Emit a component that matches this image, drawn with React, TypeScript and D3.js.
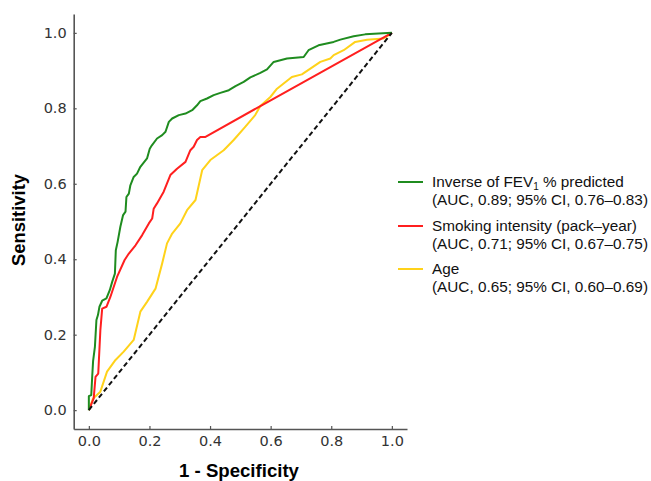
import React, { useRef, useEffect } from "react";
import * as d3 from "d3";

// ROC points: [1 - specificity, sensitivity]
const fevCurve: [number, number][] = [
  [0, 0], [0, 0.037], [0.008, 0.04], [0.011, 0.088], [0.014, 0.13], [0.02, 0.168],
  [0.025, 0.239], [0.03, 0.252], [0.035, 0.274], [0.044, 0.29], [0.058, 0.296],
  [0.069, 0.318], [0.077, 0.34], [0.086, 0.362], [0.089, 0.424], [0.095, 0.446],
  [0.104, 0.486], [0.113, 0.517], [0.121, 0.526], [0.124, 0.565], [0.132, 0.574],
  [0.137, 0.596], [0.148, 0.618], [0.159, 0.627], [0.17, 0.645], [0.192, 0.667],
  [0.201, 0.693], [0.208, 0.702], [0.225, 0.72], [0.242, 0.729], [0.253, 0.738],
  [0.264, 0.764], [0.275, 0.773], [0.297, 0.782], [0.319, 0.786], [0.341, 0.795],
  [0.357, 0.808], [0.368, 0.819], [0.39, 0.826], [0.412, 0.835], [0.434, 0.841],
  [0.462, 0.848], [0.484, 0.859], [0.511, 0.87], [0.533, 0.882], [0.566, 0.894],
  [0.588, 0.903], [0.61, 0.923], [0.654, 0.932], [0.709, 0.936], [0.725, 0.954],
  [0.758, 0.967], [0.808, 0.976], [0.83, 0.982], [0.874, 0.991], [0.912, 0.996],
  [1, 1],
];

const smokingCurve: [number, number][] = [
  [0, 0], [0.016, 0.031], [0.022, 0.088], [0.031, 0.097], [0.038, 0.212],
  [0.044, 0.269], [0.058, 0.274], [0.071, 0.3], [0.093, 0.353], [0.118, 0.398],
  [0.132, 0.415], [0.154, 0.437], [0.176, 0.464], [0.198, 0.495], [0.209, 0.508],
  [0.214, 0.534], [0.225, 0.548], [0.247, 0.579], [0.269, 0.623], [0.291, 0.64],
  [0.319, 0.658], [0.335, 0.689], [0.346, 0.698], [0.357, 0.716], [0.368, 0.724],
  [0.385, 0.724], [0.566, 0.806], [1, 1],
];

const ageCurve: [number, number][] = [
  [0, 0], [0.014, 0.031], [0.038, 0.049], [0.06, 0.102], [0.088, 0.133],
  [0.115, 0.155], [0.148, 0.186], [0.17, 0.261], [0.192, 0.287], [0.22, 0.322],
  [0.242, 0.389], [0.258, 0.442], [0.275, 0.468], [0.302, 0.495], [0.324, 0.53],
  [0.352, 0.557], [0.374, 0.636], [0.401, 0.663], [0.445, 0.689], [0.478, 0.716],
  [0.516, 0.751], [0.549, 0.782], [0.566, 0.806], [0.599, 0.83], [0.621, 0.852],
  [0.67, 0.883], [0.703, 0.89], [0.764, 0.923], [0.797, 0.932], [0.808, 0.941],
  [0.841, 0.954], [0.879, 0.976], [0.918, 0.982], [0.973, 0.985], [1, 1],
];

const chanceLine: [number, number][] = [[0, 0], [1, 1]];

const ticks = [0, 0.2, 0.4, 0.6, 0.8, 1.0];

const seriesNames = ["Inverse of FEV", "Smoking intensity (pack\u2013year)", "Age"];
const seriesAuc = [
  "(AUC, 0.89; 95% CI, 0.76\u20130.83)",
  "(AUC, 0.71; 95% CI, 0.67\u20130.75)",
  "(AUC, 0.65; 95% CI, 0.60\u20130.69)",
];
const seriesColors = ["#1f8c1f", "#ff1f1f", "#ffd21a"];

const App = () => {
  const svgRef = useRef<SVGSVGElement>(null);

  useEffect(() => {
    const w = 651;
    const h = 481;
    const svg = d3.select(svgRef.current).attr("width", w).attr("height", h);
    svg.selectAll("*").remove();

    const x = d3.scaleLinear().domain([-0.05, 1.05]).range([73.7, 407]);
    const y = d3.scaleLinear().domain([-0.05, 1.05]).range([429, 14]);

    const line = d3
      .line<[number, number]>()
      .x((d) => x(d[0]))
      .y((d) => y(d[1]));

    const curves = [fevCurve, smokingCurve, ageCurve];

    // age first so green sits on top like the original
    [2, 1, 0].forEach((i) => {
      svg
        .append("path")
        .attr("d", line(curves[i]))
        .attr("fill", "none")
        .attr("stroke", seriesColors[i])
        .attr("stroke-width", 2)
        .attr("stroke-linejoin", "round");
    });

    svg
      .append("path")
      .attr("d", line(chanceLine))
      .attr("fill", "none")
      .attr("stroke", "#111")
      .attr("stroke-width", 2)
      .attr("stroke-dasharray", "5,3");

    const xAxis = d3.axisBottom(x).tickValues(ticks).tickFormat(d3.format(".1f")).tickSizeInner(-3).tickSizeOuter(0).tickPadding(7);
    const yAxis = d3.axisLeft(y).tickValues(ticks).tickFormat(d3.format(".1f")).tickSizeInner(-3).tickSizeOuter(0).tickPadding(7);

    const gx = svg.append("g").attr("transform", "translate(0,429)").call(xAxis);
    const gy = svg.append("g").attr("transform", "translate(73.7,0)").call(yAxis);

    [gx, gy].forEach((g) => {
      g.select(".domain").attr("stroke", "#555").attr("stroke-width", 1.6);
      g.selectAll(".tick line").attr("stroke", "#555").attr("stroke-width", 1.2);
      g.selectAll(".tick text")
        .attr("fill", "#333")
        .attr("font-family", "DejaVu Sans")
        .attr("font-size", 14.5);
    });

    svg
      .append("text")
      .attr("x", 239)
      .attr("y", 477)
      .attr("text-anchor", "middle")
      .attr("font-family", "Liberation Sans, Arial, sans-serif")
      .attr("font-weight", "bold")
      .attr("font-size", 18.6)
      .text("1 - Specificity");

    svg
      .append("text")
      .attr("transform", "translate(25,220) rotate(-90)")
      .attr("text-anchor", "middle")
      .attr("font-family", "Liberation Sans, Arial, sans-serif")
      .attr("font-weight", "bold")
      .attr("font-size", 18.4)
      .text("Sensitivity");

    const legend = svg.append("g").attr("font-family", "Liberation Sans, Arial, sans-serif").attr("font-size", 15.3).attr("fill", "#111");
    const rowY = [182, 226, 269];
    seriesNames.forEach((name, i) => {
      legend
        .append("line")
        .attr("x1", 398)
        .attr("x2", 423)
        .attr("y1", rowY[i])
        .attr("y2", rowY[i])
        .attr("stroke", seriesColors[i])
        .attr("stroke-width", 2);
      const t = legend.append("text").attr("x", 432).attr("y", rowY[i] + 5);
      t.append("tspan").text(name);
      if (i === 0) {
        t.append("tspan").attr("font-size", 10).attr("dy", 2.5).text("1");
        t.append("tspan").attr("dy", -2.5).text(" % predicted");
      }
      legend.append("text").attr("x", 432).attr("y", rowY[i] + 23).text(seriesAuc[i]);
    });
  }, []);

  return (
    <svg ref={svgRef} style={{ position: "absolute", left: 0, top: 0 }}></svg>
  );
};

export default App;
